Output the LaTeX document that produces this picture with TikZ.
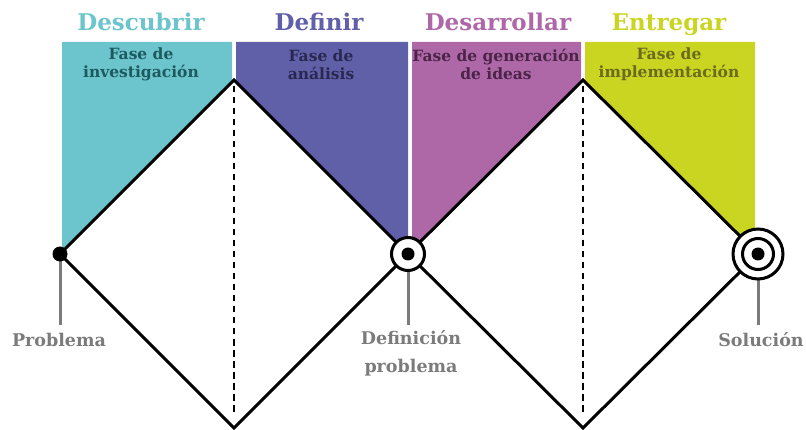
\documentclass[tikz,border=0pt]{standalone}
\usepackage{fontspec}
\setmainfont{DejaVu Serif}
\definecolor{cDes}{HTML}{6CC5CC}
\definecolor{cDef}{HTML}{6060A9}
\definecolor{cDsr}{HTML}{AE68A8}
\definecolor{cEnt}{HTML}{CAD522}
\definecolor{tDes}{HTML}{1D5A5F}
\definecolor{tDef}{HTML}{2A2850}
\definecolor{tDsr}{HTML}{4B2448}
\definecolor{tEnt}{HTML}{6B6A1E}
\definecolor{gLab}{HTML}{7B7B7B}
\tikzset{
  title/.style={font=\bfseries\fontsize{23}{26}\selectfont, anchor=base},
  phase/.style={font=\bfseries\fontsize{15.5}{18}\selectfont, align=center, inner sep=0pt},
  lab/.style={font=\bfseries\fontsize{17.5}{28}\selectfont, text=gLab, align=center, inner sep=0pt},
  diam/.style={line width=3pt, black, line join=miter},
  dashv/.style={line width=2.6pt, black, dash pattern=on 6.5pt off 4.5pt},
  stem/.style={line width=3pt, gLab},
}
\begin{document}
\begin{tikzpicture}[x=1pt,y=-1pt]
\useasboundingbox (0,0) rectangle (806,430);
% key points
\coordinate (P) at (60,254);
\coordinate (D) at (408,254);
\coordinate (S) at (758,254);
\coordinate (T1) at (234,80);
\coordinate (T2) at (583,80);
\coordinate (B1) at (234,428);
\coordinate (B2) at (583,428);
% panels
\fill[cDes] (62,42) -- (232,42) -- (232,82) -- (62,252) -- cycle;
\fill[cDef] (236,42) -- (408,42) -- (408,254) -- (236,82) -- cycle;
\fill[cDsr] (412,42) -- (581,42) -- (581,82) -- (412,250) -- cycle;
\fill[cEnt] (585,42) -- (755,42) -- (755,252) -- (585,82) -- cycle;
% titles
\node[title, text=cDes] (h1) at (141,31) {Descubrir};
\node[title, text=cDef] (h2) at (319,31) {Definir};
\node[title, text=cDsr] (h3) at (498,31) {Desarrollar};
\node[title, text=cEnt] (h4) at (669,31) {Entregar};
% phase texts
\node[phase, text=tDes] (f1) at (141,64.5) {Fase de\\investigación};
\node[phase, text=tDef] (f2) at (321,64.5) {Fase de\\análisis};
\node[phase, text=tDsr] (f3) at (496,64.5) {Fase de generación\\de ideas};
\node[phase, text=tEnt] (f4) at (669,64.5) {Fase de\\implementación};
% dashed dividers
\draw[dashv] (234,86) -- (234,414);
\draw[dashv] (583,86) -- (583,414);
% diamonds
\draw[diam] (P) -- (T1) -- (D) -- (B1) -- cycle;
\draw[diam] (D) -- (T2) -- (S) -- (B2) -- cycle;
% labels
\node[lab] (lp) at (59,340) {Problema};
\node[lab, anchor=north] (ld) at (411,330) {Definición\\problema};
\node[lab] (ls) at (761,340) {Solución};
% stems
\draw[stem] (P) -- (60,325);
\draw[stem] (D) -- (408,325);
\draw[stem] (S) -- (758,325);
% markers
\node[circle, fill=black, minimum size=15pt, inner sep=0pt] (np) at (P) {};
\node[circle, draw=black, fill=white, line width=3pt, minimum size=33pt, inner sep=0pt] (nd) at (D) {};
\node[circle, fill=black, minimum size=13pt, inner sep=0pt] at (D) {};
\node[circle, draw=black, fill=white, line width=3pt, minimum size=50pt, inner sep=0pt] (ns) at (S) {};
\node[circle, draw=black, fill=white, line width=3pt, minimum size=31pt, inner sep=0pt] at (S) {};
\node[circle, fill=black, minimum size=13pt, inner sep=0pt] at (S) {};
\end{tikzpicture}
\end{document}
